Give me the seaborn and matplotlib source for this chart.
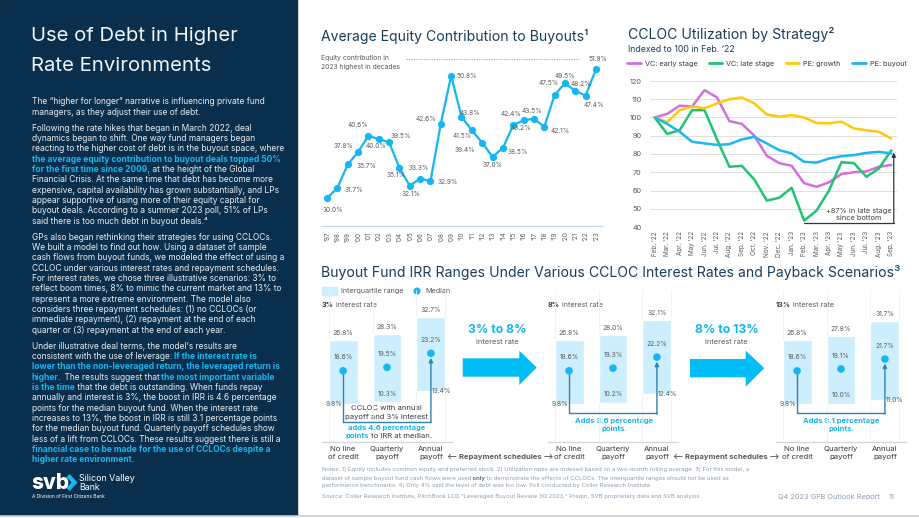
import numpy as np
import pandas as pd
import matplotlib
matplotlib.use("Agg")
import matplotlib.pyplot as plt
import seaborn as sns
from matplotlib.patches import Rectangle, Polygon
from matplotlib.lines import Line2D

# ---------------- data ----------------
years = ["'97", "'98", "'99", "'00", "'01", "'02", "'03", "'04", "'05", "'06", "'07", "'08", "'09",
         "'10", "'11", "'12", "'13", "'14", "'15", "'16", "'17", "'18", "'19", "'20", "'21", "'22", "'23"]
equity = [30.0, 31.7, 35.7, 37.8, 40.6, 40.0, 39.5, 35.1, 32.1, 33.3, 32.9, 42.6, 50.8,
          43.8, 41.5, 39.4, 37.0, 38.5, 42.4, 43.2, 43.5, 42.1, 47.5, 49.5, 48.2, 47.4, 51.9]

months = ["Feb. '22", "Mar. '22", "Apr. '22", "May '22", "Jun. '22", "Jul. '22", "Aug. '22",
          "Sep. '22", "Oct. '22", "Nov. '22", "Dec. '22", "Jan. '23", "Feb. '23", "Mar. '23",
          "Apr. '23", "May '23", "Jun. '23", "Jul. '23", "Aug. '23", "Sep. '23"]
vc_early = [100, 102, 106.5, 106, 115, 111, 98, 96.5, 90, 79, 75, 73.5, 64, 62, 64.5, 69, 70, 70.5, 73, 74]
vc_late = [100, 91, 93, 104, 104, 88, 73, 73.5, 66, 54.5, 56, 61.5, 43.5, 49, 60, 75.5, 75, 67.5, 72, 82]
pe_growth = [100, 97.5, 104, 106, 105, 107.7, 110, 111, 107.7, 101.7, 100.4, 101.3, 100, 97, 96.8,
             97.7, 94, 93, 92.2, 88.5]
pe_buyout = [100, 96.5, 92.2, 86.7, 85.8, 85, 85.4, 88, 89.4, 85.8, 82.1, 80.3, 75.7, 75.3, 77.5,
             78.8, 79.4, 80.6, 81.2, 80.3]
strategies = ["VC: early stage", "VC: late stage", "PE: growth", "PE: buyout"]

schedules = ["No line\nof credit", "Quarterly\npayoff", "Annual\npayoff"]
rates = ["3%", "8%", "13%"]
q1_3 = [9.8, 10.3, 13.4]
med_3 = [18.6, 19.5, 23.2]
q3_3 = [26.8, 28.3, 32.7]
q1_8 = [9.8, 10.2, 12.4]
med_8 = [18.6, 19.3, 22.2]
q3_8 = [26.8, 28.0, 32.1]
q1_13 = [9.8, 10.0, 11.0]
med_13 = [18.6, 19.1, 21.7]
q3_13 = [26.8, 27.8, 31.7]

# ---------------- style ----------------
NAVY = "#0a2f4c"
TITLE = "#1c3d5a"
CYAN = "#16b6f2"
GRAY = "#595959"
DARK = "#3a3a3a"
LIGHTBAR = "#cdeefc"
NOTE = "#8d9db0"
BODY = "#e8edf2"
C_EARLY, C_LATE, C_GROWTH, C_BUY = "#d36ee0", "#1ec46f", "#ffc90a", "#1ab6f3"

sns.set_theme(style="white")
plt.rcParams["font.family"] = ["Inter", "DejaVu Sans"]

W, H = 920, 518
fig = plt.figure(figsize=(9.2, 5.18), dpi=100)


def fr(x, y, w, h):
    return [x / W, 1 - (y + h) / H, w / W, h / H]


# overlay axes in pixel coordinates
ov = fig.add_axes([0, 0, 1, 1], zorder=0)
ov.set_xlim(0, W)
ov.set_ylim(H, 0)
ov.axis("off")
ov.add_patch(Rectangle((0, 0), 297, 515, color=NAVY, zorder=0))
ov.plot([0, W], [516, 516], color="#c8ced4", lw=1.2)


def rich(x, y, parts, size, ha_first="left"):
    t = None
    for s, c, w in parts:
        if t is None:
            t = ov.text(x, y, s, color=c, fontweight=w, fontsize=size, va="center", ha=ha_first)
        else:
            t = ov.annotate(s, xy=(1, 0), xycoords=t, va="bottom", ha="left",
                            color=c, fontweight=w, fontsize=size)
    return t


# ---------------- left panel ----------------
ov.text(31, 36, "Use of Debt in Higher", color="#f2f5f8", fontsize=14.6, fontweight="normal", va="center")
ov.text(31, 66, "Rate Environments", color="#f2f5f8", fontsize=14.6, fontweight="normal", va="center")

N, B = "normal", "bold"
paras = [
    [[("The “higher for longer” narrative is influencing private fund", BODY, N)],
     [("managers, as they adjust their use of debt.", BODY, N)]],
    [[("Following the rate hikes that began in March 2022, deal", BODY, N)],
     [("dynamics began to shift. One way fund managers began", BODY, N)],
     [("reacting to the higher cost of debt is in the buyout space, where", BODY, N)],
     [("the average equity contribution to buyout deals topped 50%", CYAN, B)],
     [("for the first time since 2009,", CYAN, B), (" at the height of the Global", BODY, N)],
     [("Financial Crisis. At the same time that debt has become more", BODY, N)],
     [("expensive, capital availability has grown substantially, and LPs", BODY, N)],
     [("appear supportive of using more of their equity capital for", BODY, N)],
     [("buyout deals. According to a summer 2023 poll, 51% of LPs", BODY, N)],
     [("said there is too much debt in buyout deals.⁴", BODY, N)]],
    [[("GPs also began rethinking their strategies for using CCLOCs.", BODY, N)],
     [("We built a model to find out how. Using a dataset of sample", BODY, N)],
     [("cash flows from buyout funds, we modeled the effect of using a", BODY, N)],
     [("CCLOC under various interest rates and repayment schedules.", BODY, N)],
     [("For interest rates, we chose three illustrative scenarios: 3% to", BODY, N)],
     [("reflect boom times, 8% to mimic the current market and 13% to", BODY, N)],
     [("represent a more extreme environment. The model also", BODY, N)],
     [("considers three repayment schedules: (1) no CCLOCs (or", BODY, N)],
     [("immediate repayment), (2) repayment at the end of each", BODY, N)],
     [("quarter or (3) repayment at the end of each year.", BODY, N)]],
    [[("Under illustrative deal terms, the model’s results are", BODY, N)],
     [("consistent with the use of leverage:", BODY, N), (" If the interest rate is", CYAN, B)],
     [("lower than the non-leveraged return, the leveraged return is", CYAN, B)],
     [("higher.", CYAN, B), (" The results suggest that", BODY, N), (" the most important variable", CYAN, B)],
     [("is the time", CYAN, B), (" that the debt is outstanding. When funds repay", BODY, N)],
     [("annually and interest is 3%, the boost in IRR is 4.6 percentage", BODY, N)],
     [("points for the median buyout fund. When the interest rate", BODY, N)],
     [("increases to 13%, the boost in IRR is still 3.1 percentage points", BODY, N)],
     [("for the median buyout fund. Quarterly payoff schedules show", BODY, N)],
     [("less of a lift from CCLOCs. These results suggest there is still a", BODY, N)],
     [("financial case to be made for the use of CCLOCs despite a", CYAN, B)],
     [("higher rate environment.", CYAN, B)]],
]
yy = 101.7
for p in paras:
    for line in p:
        rich(32, yy, line, 6.05)
        yy += 10.33
    yy += 5.7

# logo
ov.text(31, 483, "svb", color="white", fontsize=15, fontweight="heavy", va="center")
ov.plot([68, 74.5, 68], [475.5, 482.5, 489.5], color=CYAN, lw=3.2, solid_joinstyle="miter",
        solid_capstyle="butt")
ov.text(79, 478.5, "Silicon Valley", color="white", fontsize=6.4, va="center")
ov.text(79, 487.5, "Bank", color="white", fontsize=6.4, va="center")
ov.text(32, 496.7, "A Division of First Citizens Bank", color="white", fontsize=3.5, va="center")

# ---------------- equity chart ----------------
ov.text(321, 37, "Average Equity Contribution to Buyouts¹", color=TITLE, fontsize=10.1, va="center")
ov.text(321, 58, "Equity contribution in", color=GRAY, fontsize=4.9, va="center")
ov.text(321, 67, "2023 highest in decades", color=GRAY, fontsize=4.9, va="center")
ov.plot([406, 579], [58.5, 58.5], color="#8a8a8a", lw=0.5, ls=(0, (2, 1.6)))

ax1 = fig.add_axes(fr(321, 55, 281, 171), zorder=2)
ax1.patch.set_alpha(0)
idx = np.arange(len(years))
sns.lineplot(x=idx, y=equity, ax=ax1, color=CYAN, lw=1.6, marker="o", markersize=5.2,
             markeredgewidth=0)
ax1.set_xlim(-0.58, len(years) - 1 + 0.58)
ax1.set_ylim(25.25, 54.3)
ax1.set_xticks(idx)
ax1.set_xticklabels(years, rotation=90, fontsize=4.6, color=GRAY)
ax1.set_yticks([])
ax1.tick_params(axis="x", length=0, pad=4)
for s in ["top", "right", "left"]:
    ax1.spines[s].set_visible(False)
ax1.spines["bottom"].set_color("#c3d9e5")
ax1.spines["bottom"].set_linewidth(0.8)
ax1.set_xlabel("")
ax1.set_ylabel("")
lab_off = [(6, -12), (17, -2), (19, -2), (-14, 6), (-10, 11), (-3, -7), (12, 6), (-3, -7),
           (1, -8), (-1, 11), (17, -1), (-15, 5), (16, 0), (8, 4), (-10, -6), (-17, -7),
           (0, -8), (15, -4), (-2, 11), (-3, -8), (-2, 8), (16, -4), (-6, 12), (0, 7),
           (6, 7), (8, -9), (2, 10)]
for i, v in enumerate(equity):
    dx, dy = lab_off[i]
    ax1.annotate(f"{v:.1f}%", (i, v), xytext=(dx * 0.72, dy * 0.72), textcoords="offset points",
                 ha="center", va="center", fontsize=4.7, color=GRAY)

# ---------------- CCLOC chart ----------------
ov.text(628, 35, "CCLOC Utilization by Strategy²", color=TITLE, fontsize=10.1, va="center")
ov.text(628, 50, "Indexed to 100 in Feb. ’22", color=TITLE, fontsize=6.3, va="center")

ax2 = fig.add_axes(fr(650, 81, 247, 146), zorder=2)
ax2.patch.set_alpha(0)
long = pd.DataFrame({
    "m": np.tile(np.arange(len(months)), 4),
    "value": vc_early + vc_late + pe_growth + pe_buyout,
    "strategy": np.repeat(strategies, len(months)),
})
pal = dict(zip(strategies, [C_EARLY, C_LATE, C_GROWTH, C_BUY]))
sns.lineplot(data=long, x="m", y="value", hue="strategy", palette=pal, lw=1.8, ax=ax2,
             legend=False, zorder=3)
ax2.set_xlim(-0.38, len(months) - 1 + 0.46)
ax2.set_ylim(40, 120)
ax2.set_yticks(range(40, 121, 10))
ax2.set_xticks(range(len(months)))
ax2.set_xticklabels(months, rotation=90, fontsize=4.6, color=GRAY)
ax2.tick_params(axis="y", labelsize=5.3, labelcolor=GRAY, length=0, pad=6)
ax2.tick_params(axis="x", length=0, pad=3)
ax2.yaxis.grid(True, color="#d9d9d9", lw=0.6, zorder=0)
ax2.set_axisbelow(True)
for s in ax2.spines.values():
    s.set_visible(False)
ax2.set_xlabel("")
ax2.set_ylabel("")
imin = int(np.argmin(vc_late))
xr = len(months) - 1 + 0.2
ylow = vc_late[imin] - 1.1
ax2.plot([imin, xr], [ylow, ylow], color="#1f3a52", lw=0.9, zorder=4)
ax2.annotate("", xy=(xr, vc_late[-1] - 1.2), xytext=(xr, ylow - 0.4),
             arrowprops=dict(arrowstyle="-|>", color="#1f3a52", lw=0.9, mutation_scale=6,
                             shrinkA=0, shrinkB=0), zorder=4)
ax2.text(16.4, 46.7, "+87% in late stage\nsince bottom", ha="center", va="center", fontsize=5.3,
         color="#404040", linespacing=1.25,
         bbox=dict(facecolor="white", edgecolor="none", pad=0.6), zorder=5)
handles = [Line2D([], [], color=c, lw=2) for c in [C_EARLY, C_LATE, C_GROWTH, C_BUY]]
fig.legend(handles, strategies, loc="center left", bbox_to_anchor=(627 / W, 1 - 64 / H),
           ncol=4, frameon=False, fontsize=5.25, handlelength=1.9, handletextpad=0.55,
           columnspacing=1.5, labelcolor=DARK, borderaxespad=0, borderpad=0)

# ---------------- IRR panels ----------------
ov.text(321, 272, "Buyout Fund IRR Ranges Under Various CCLOC Interest Rates and Payback Scenarios³",
        color=TITLE, fontsize=10.1, va="center")
ov.add_patch(Rectangle((322, 287), 15, 8, color=LIGHTBAR))
ov.text(341, 291, "Interquartile range", color=GRAY, fontsize=5.2, va="center")
ov.scatter([417], [291], s=26, color=CYAN, edgecolor="none")
ov.text(425, 291, "Median", color=GRAY, fontsize=5.2, va="center")

panels = [(rates[0], q1_3, med_3, q3_3, 322, 5.2),
          (rates[1], q1_8, med_8, q3_8, 548, 7.4),
          (rates[2], q1_13, med_13, q3_13, 776, 7.4)]
q1_off = [(-9, 0), (0, 8.5), (10, 0)]
CONN = "#2f82b5"
xs = np.arange(3)
for k, (rate, q1, med, q3, left, yc) in enumerate(panels):
    rich(left, 305, [(rate, DARK, B), (" interest rate", GRAY, N)], 5.2)
    ax = fig.add_axes(fr(left, 289.5, 130, 152), zorder=2)
    ax.patch.set_alpha(0)
    for xv in [-0.33, 0.67, 1.67, 2.33]:
        ax.axvline(xv, color="#eef1f4", lw=0.6, zorder=0)
    ax.bar(xs, np.array(q3) - np.array(q1), bottom=q1, width=0.66, color=LIGHTBAR, zorder=1)
    sns.scatterplot(x=xs, y=med, ax=ax, s=30, color=CYAN, edgecolor="none", zorder=4)
    ax.set_xlim(-0.48, 2.48)
    ax.set_ylim(0, 40)
    ax.set_yticks([])
    ax.set_xticks(xs)
    ax.set_xticklabels(schedules, fontsize=5.6, color=DARK, linespacing=1.35)
    ax.tick_params(axis="x", length=0, pad=3.5)
    for s in ["top", "right", "left"]:
        ax.spines[s].set_visible(False)
    ax.spines["bottom"].set_color("#cfd6dd")
    ax.spines["bottom"].set_linewidth(0.9)
    ax.set_xlabel("")
    ax.set_ylabel("")
    for i in range(3):
        ax.annotate(f"{q3[i]:.1f}%", (i, q3[i]), xytext=(0, 5), textcoords="offset points",
                    ha="center", va="center", fontsize=4.8, color=GRAY)
        ax.annotate(f"{med[i]:.1f}%", (i, med[i]), xytext=(0, 9.6), textcoords="offset points",
                    ha="center", va="center", fontsize=4.8, color=GRAY)
        dx, dy = q1_off[i]
        ax.annotate(f"{q1[i]:.1f}%", (i, q1[i]), xytext=(dx * 0.72, dy * 0.72),
                    textcoords="offset points", ha="center", va="center", fontsize=4.8, color=GRAY)
    # connector from no-credit median to annual median
    ax.plot([0, 0, 2], [med[0], yc, yc], color=CONN, lw=1.0, zorder=3)
    ax.annotate("", xy=(2, med[2] - 1.2), xytext=(2, yc - 0.15),
                arrowprops=dict(arrowstyle="-|>", color=CONN, lw=1.0, mutation_scale=6,
                                shrinkA=0, shrinkB=0), zorder=3)

# panel texts
ov.text(386.7, 408.3, "CCLOC with annual", color=DARK, fontsize=5.5, ha="center", va="center")
ov.text(386.7, 417.3, "payoff and 3% interest", color=DARK, fontsize=5.5, ha="center", va="center")
ov.text(386.7, 427.7, "adds 4.6 percentage", color=CYAN, fontsize=5.5, ha="center", va="center",
        fontweight="bold")
rich(346, 436.3, [("points", CYAN, B), (" to IRR at median.", DARK, N)], 5.5)
for cx, txt in [(614, "Adds 3.6 percentage"), (841, "Adds 3.1 percentage")]:
    ov.text(cx, 420.5, txt, color=CYAN, fontsize=5.5, ha="center", va="center", fontweight="bold")
    ov.text(cx, 429.5, "points.", color=CYAN, fontsize=5.5, ha="center", va="center", fontweight="bold")

# big arrows
for (x0, xh, xt, yt, yb, yht, yhb), (lbl, cx) in zip(
        [(462.7, 519.3, 536.7, 358.3, 376.7, 350.7, 385.0),
         (690.0, 745.7, 764.3, 359.0, 377.3, 350.7, 386.7)],
        [("3% to 8%", 497.7), ("8% to 13%", 726.7)]):
    ov.add_patch(Polygon([(x0, yt), (xh, yt), (xh, yht), (xt, (yt + yb) / 2), (xh, yhb),
                          (xh, yb), (x0, yb)], closed=True, color="#00bdf7", lw=0))
    ov.text(cx, 330, lbl, color=CYAN, fontsize=8.8, fontweight="bold", ha="center", va="center")
    ov.text(cx, 342.5, "interest rate", color=GRAY, fontsize=5.4, ha="center", va="center")

for cx in [500, 726.7]:
    ov.text(cx, 456.7, "⟵ Repayment schedules ⟶", color=GRAY, fontsize=5.5, fontweight="bold",
            ha="center", va="center")

# notes
nsz = 4.25
rich(322, 470, [("Notes: 1) Equity includes common equity and preferred stock. 2) Utilization rates are "
                 "indexed based on a two-month rolling average. 3) For this model, a", NOTE, N)], nsz)
rich(322, 478.3, [("dataset of sample buyout fund cash flows were used", NOTE, N), (" only", "#5d6f84", B),
                  (" to demonstrate the effects of CCLOCs. The interquartile ranges should not be used as",
                   NOTE, N)], nsz)
rich(322, 486, [("performance benchmarks. 4) Only 4% said the level of debt was too low. Poll conducted by "
                 "Coller Research Institute.", NOTE, N)], nsz)
rich(322, 496.7, [("Source: Coller Research Institute, PitchBook LCD “Leveraged Buyout Review 3Q 2023,” "
                   "Preqin, SVB proprietary data and SVB analysis.", NOTE, N)], nsz)
ov.text(777.7, 496.7, "Q4 2023 GFB Outlook Report", color=NOTE, fontsize=5.3, va="center")
ov.text(889, 496.7, "11", color=NOTE, fontsize=5.3, va="center")

fig.savefig("out.png", dpi=100)
